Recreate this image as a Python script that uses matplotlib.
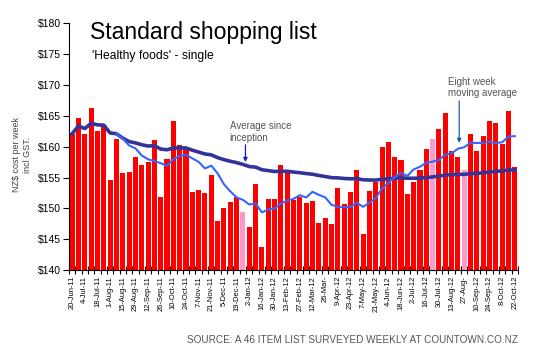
import matplotlib
matplotlib.use("Agg")
import matplotlib.pyplot as plt
import numpy as np
import pandas as pd

plt.rcParams['font.family'] = ['Liberation Sans', 'DejaVu Sans']

# weekly cost of the 46 item list, 20-Jun-11 .. 22-Oct-12
prices = [162.1, 164.6, 162.1, 166.3, 162.5, 163.3, 154.6, 161.2, 155.7, 155.85, 158.4, 157.1,
          157.5, 161.0, 151.8, 157.95, 164.1, 160.2, 159.7, 152.6, 152.95, 152.5, 155.4, 147.95,
          150.1, 151.0, 151.8, 149.4, 147.0, 153.9, 143.8, 151.55, 151.55, 157.1, 156.0, 151.45,
          151.9, 150.85, 151.2, 147.6, 148.4, 147.5, 153.3, 150.7, 152.6, 156.2, 145.85, 152.85,
          154.35, 159.9, 160.7, 158.4, 157.8, 152.3, 154.25, 156.3, 159.6, 161.3, 162.8, 165.5,
          159.25, 158.3, 156.2, 162.1, 159.25, 161.65, 164.1, 163.75, 160.4, 165.7, 156.65]
highlight_weeks = [27, 57, 62]

tick_labels = ["20-Jun-11", "4-Jul-11", "18-Jul-11", "1-Aug-11", "15-Aug-11", "29-Aug-11",
               "12-Sep-11", "26-Sep-11", "10-Oct-11", "24-Oct-11", "7-Nov-11", "21-Nov-11",
               "5-Dec-11", "19-Dec-11", "2-Jan-12", "16-Jan-12", "30-Jan-12", "13-Feb-12",
               "27-Feb-12", "12-Mar-12", "26-Mar-", "9-Apr-12", "23-Apr-12", "7-May-12",
               "21-May-12", "4-Jun-12", "18-Jun-12", "2-Jul-12", "16-Jul-12", "30-Jul-12",
               "13-Aug-12", "27-Aug-", "10-Sep-12", "24-Sep-12", "8-Oct-12", "22-Oct-12"]
yticks = [140, 145, 150, 155, 160, 165, 170, 175, 180]

s = pd.Series(prices)
eight_week = s.rolling(8).mean()
since_start = s.expanding().mean()

x = np.arange(len(prices))
colors = ['#ff99cc' if i in highlight_weeks else '#ff0000' for i in x]

fig = plt.figure(figsize=(5.5, 3.5), dpi=100)
ax = fig.add_axes([69/550, 1-270.3/350, 449/550, 247.3/350])

ax.bar(x, s, width=0.8, color=colors, zorder=2)
ax.plot(x, since_start, color='#333399', lw=2.6, zorder=3)
ax.plot(x, eight_week, color='#3366ff', lw=1.5, zorder=4)

ax.set_xlim(-0.5, len(prices)-0.5)
ax.set_ylim(140, 180)
ax.set_yticks(yticks)
ax.set_yticklabels(['$%d' % v for v in yticks], fontsize=7.5)
ax.set_xticks(x[::2])
ax.set_xticklabels(tick_labels, rotation=90, fontsize=5.4)
ax.set_xticks(np.arange(-0.5, len(prices)), minor=True)
ax.tick_params(axis='x', which='major', length=0, pad=4)
ax.tick_params(axis='x', which='minor', direction='inout', length=6, width=0.8)
ax.tick_params(axis='y', direction='out', length=4, width=0.8, pad=2)
for sp in ['top', 'right']:
    ax.spines[sp].set_visible(False)

# annotations: text and vertical arrows
ax.text(24.9, 164.1, "Average since\ninception", fontsize=7, color='#555555', va='top', ha='left')
ax.annotate("", xy=(27.4, 157.5), xytext=(27.4, 160.3),
            arrowprops=dict(arrowstyle='-|>', color='#1a1acc', lw=0.9,
                            mutation_scale=6, shrinkA=0, shrinkB=0))
ax.text(59.5, 171.3, "Eight week\nmoving average", fontsize=7, color='#555555', va='top', ha='left')
ax.annotate("", xy=(61.2, 160.6), xytext=(61.2, 167.4),
            arrowprops=dict(arrowstyle='-|>', color='#1f5f99', lw=0.9,
                            mutation_scale=6, shrinkA=0, shrinkB=0))

fig.text(90.5/550, 1-39.3/350, "Standard shopping list", fontsize=16.6, va='baseline')
fig.text(91.5/550, 1-59/350, "'Healthy foods' - single", fontsize=8.7, va='baseline')
fig.text(22/550, 1-155/350, "NZ$ cost per week\nincl GST.", rotation=90, fontsize=6.5,
         color='#444444', ha='center', va='center', multialignment='center')
fig.text(518/550, 1-343/350, "SOURCE: A 46 ITEM LIST SURVEYED WEEKLY AT COUNTOWN.CO.NZ",
         fontsize=7.2, color='#555555', ha='right', va='baseline')

fig.savefig("out.png", dpi=100)
